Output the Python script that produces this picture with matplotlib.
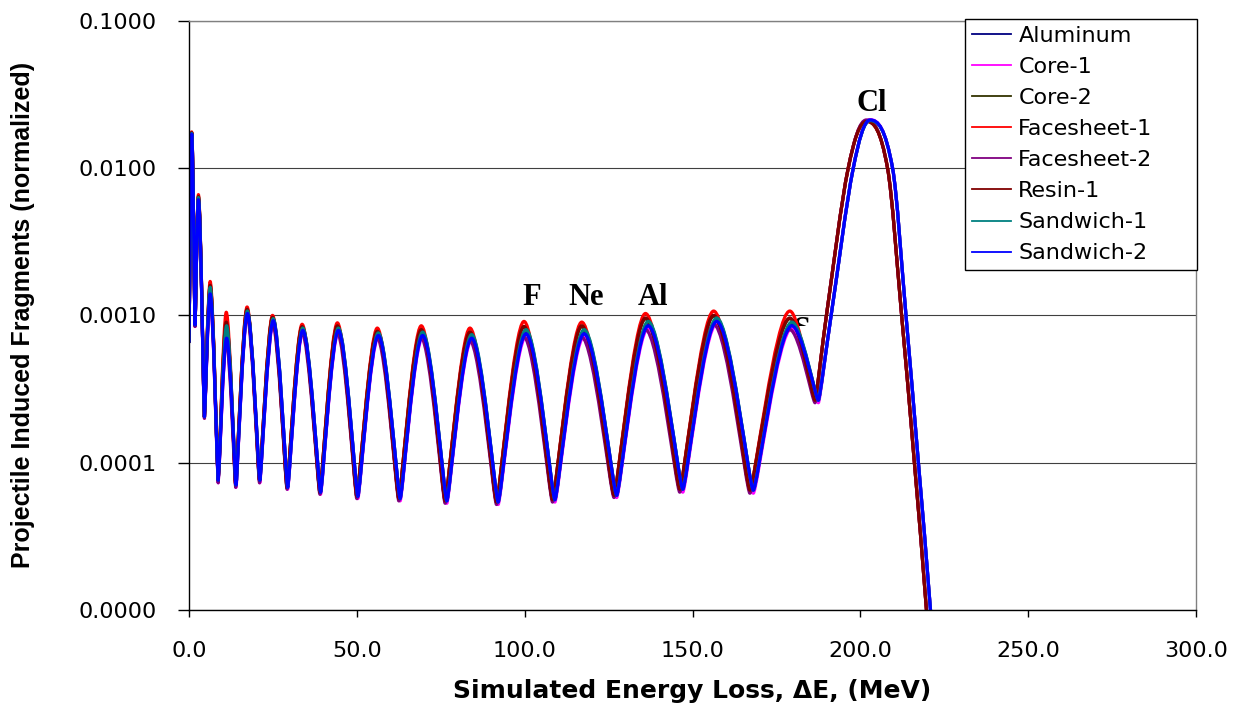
import numpy as np
import matplotlib
matplotlib.use("Agg")
import matplotlib.pyplot as plt
from matplotlib.path import Path
from matplotlib.patches import PathPatch, Rectangle
from matplotlib.lines import Line2D
from matplotlib.ticker import FixedLocator, NullLocator, FixedFormatter

# ---------------- data ----------------
series_names = ["Aluminum", "Core-1", "Core-2", "Facesheet-1",
                "Facesheet-2", "Resin-1", "Sandwich-1", "Sandwich-2"]
series_colors = ["#000080", "#FF00FF", "#333300", "#FF0000",
                 "#800080", "#800000", "#008080", "#0000FF"]
# which energy grid each series follows ("R" = right group, "L" = left group)
series_group = ["R", "R", "L", "L", "L", "L", "R", "R"]

start_E = 0.0
start_y = 6.6e-4

# energies (MeV) of the 16 fragment peaks and the 16 valleys after them
peak_E_right = [0.8, 2.8, 6.3, 11.2, 17.4, 25.1, 33.9, 44.5, 56.4, 69.6,
                84.2, 100.4, 117.7, 136.8, 157.2, 179.6]
valley_E_right = [1.8, 4.6, 8.7, 14.0, 21.1, 29.4, 39.2, 50.3, 62.9, 76.8,
                  92.1, 109.0, 127.4, 147.1, 168.1, 187.5]
peak_E_left = [0.8, 2.8, 6.3, 11.1, 17.3, 24.9, 33.7, 44.2, 56.1, 69.2,
               83.7, 99.8, 117.0, 136.0, 156.3, 179.0]
valley_E_left = [1.8, 4.6, 8.7, 13.9, 21.0, 29.2, 39.0, 50.0, 62.5, 76.3,
                 91.6, 108.3, 126.6, 146.2, 167.1, 186.5]

# Cl peak region: two rise points, the peak, five fall points
cl_E_right = [191.3, 197.9, 202.9, 209.6, 213.6, 217.3, 220.9, 222.6]
cl_E_left = [189.9, 196.4, 201.8, 208.1, 212.3, 216.1, 219.7, 221.4]
cl_rise_y = [1.0e-3, 1.0e-2]
cl_fall_y = [1.0e-2, 1.0e-3, 1.0e-4, 1.0e-5, 2.5e-6]

valleys_upper = [8.6e-4, 2.05e-4, 7.6e-5, 7.05e-5, 7.6e-5, 6.8e-5, 6.3e-5, 5.9e-5,
                 5.7e-5, 5.5e-5, 5.4e-5, 5.6e-5, 6.0e-5, 6.6e-5, 6.5e-5, 2.65e-4]
valleys_lower = [8.4e-4, 2.0e-4, 7.3e-5, 6.8e-5, 7.3e-5, 6.6e-5, 6.1e-5, 5.7e-5,
                 5.5e-5, 5.3e-5, 5.2e-5, 5.4e-5, 5.8e-5, 6.3e-5, 6.2e-5, 2.55e-4]
series_valleys = ["U", "L", "U", "U", "L", "U", "U", "U"]

# 16 fragment peaks + Cl peak for each series
aluminum_peaks = [0.0171, 0.0062, 0.00150, 0.00080, 0.00105, 0.00094, 0.00081, 0.00081,
                  0.00075, 0.00075, 0.00072, 0.00078, 0.00078, 0.00089, 0.00094, 0.00088, 0.0211]
core1_peaks = [0.0168, 0.0060, 0.00135, 0.00068, 0.00100, 0.00089, 0.00077, 0.00077,
               0.00071, 0.00071, 0.00068, 0.00072, 0.00072, 0.00082, 0.00088, 0.00082, 0.0213]
core2_peaks = [0.0173, 0.0064, 0.00160, 0.00092, 0.00110, 0.00097, 0.00084, 0.00085,
               0.00078, 0.00080, 0.00077, 0.00084, 0.00084, 0.00095, 0.00099, 0.00095, 0.0209]
facesheet1_peaks = [0.0176, 0.0066, 0.00170, 0.00105, 0.00114, 0.00100, 0.00087, 0.00089,
                    0.00082, 0.00085, 0.00082, 0.00091, 0.00090, 0.00103, 0.00107, 0.00107, 0.0208]
facesheet2_peaks = [0.0168, 0.0060, 0.00135, 0.00067, 0.00099, 0.00088, 0.00076, 0.00076,
                    0.00070, 0.00070, 0.00067, 0.00071, 0.00071, 0.00080, 0.00087, 0.00080, 0.0212]
resin1_peaks = [0.0174, 0.0064, 0.00160, 0.00090, 0.00110, 0.00097, 0.00084, 0.00085,
                0.00078, 0.00080, 0.00077, 0.00084, 0.00085, 0.00096, 0.00100, 0.00096, 0.0207]
sandwich1_peaks = [0.0172, 0.0063, 0.00155, 0.00085, 0.00107, 0.00095, 0.00082, 0.00082,
                   0.00076, 0.00077, 0.00074, 0.00080, 0.00080, 0.00091, 0.00096, 0.00090, 0.0210]
sandwich2_peaks = [0.0170, 0.0061, 0.00140, 0.00070, 0.00103, 0.00092, 0.00079, 0.00079,
                   0.00073, 0.00073, 0.00070, 0.00075, 0.00075, 0.00085, 0.00091, 0.00085, 0.0212]
series_peaks = [aluminum_peaks, core1_peaks, core2_peaks, facesheet1_peaks,
                facesheet2_peaks, resin1_peaks, sandwich1_peaks, sandwich2_peaks]

# element labels
label_texts = ["F", "Ne", "Al", "S", "Cl"]
label_E = [102.0, 118.4, 138.3, 182.6, 203.4]
label_y = [1.17e-3, 1.17e-3, 1.17e-3, 7.0e-4, 2.45e-2]
# the "S" label is largely hidden in the original; only its top is visible
s_label_visible_above = 8.5e-4

x_ticks = [0, 50, 100, 150, 200, 250, 300]
x_tick_labels = ["0.0", "50.0", "100.0", "150.0", "200.0", "250.0", "300.0"]
y_ticks = [1e-5, 1e-4, 1e-3, 1e-2, 1e-1]
y_tick_labels = ["0.0000", "0.0001", "0.0010", "0.0100", "0.1000"]


# ---------------- helpers ----------------
def build_series(group, peaks, valleys):
    pE = peak_E_right if group == "R" else peak_E_left
    vE = valley_E_right if group == "R" else valley_E_left
    cE = cl_E_right if group == "R" else cl_E_left
    xs, ys = [start_E], [start_y]
    for i in range(len(pE)):
        xs += [pE[i], vE[i]]
        ys += [peaks[i], valleys[i]]
    xs += list(cE)
    ys += list(cl_rise_y) + [peaks[-1]] + list(cl_fall_y)
    return xs, ys


def smooth_path(xs, ys, peak_round=1.09, valley_round=0.3):
    """Excel-like smoothed line: cubic Bezier segments through the data
    points, built in (x, log10 y) space."""
    x = np.asarray(xs, float)
    ly = np.log10(np.asarray(ys, float))
    n = len(x)
    m = np.zeros(n)
    h = np.ones(n)
    for i in range(n):
        if i == 0:
            m[i] = (ly[1] - ly[0]) / (x[1] - x[0])
        elif i == n - 1:
            m[i] = (ly[-1] - ly[-2]) / (x[-1] - x[-2])
        elif ly[i] > ly[i - 1] and ly[i] > ly[i + 1]:
            m[i], h[i] = 0.0, peak_round
        elif ly[i] < ly[i - 1] and ly[i] < ly[i + 1]:
            m[i], h[i] = 0.0, valley_round
        else:
            m[i] = (ly[i + 1] - ly[i - 1]) / (x[i + 1] - x[i - 1])
    verts = [(x[0], ly[0])]
    codes = [Path.MOVETO]
    for i in range(n - 1):
        dx = x[i + 1] - x[i]
        a = h[i] * dx / 3.0
        b = h[i + 1] * dx / 3.0
        verts += [(x[i] + a, ly[i] + m[i] * a),
                  (x[i + 1] - b, ly[i + 1] - m[i + 1] * b),
                  (x[i + 1], ly[i + 1])]
        codes += [Path.CURVE4] * 3
    v = np.array(verts)
    v[:, 1] = 10.0 ** v[:, 1]
    return Path(v, codes)


# ---------------- figure ----------------
W, H = 1246, 706
fig = plt.figure(figsize=(W / 100, H / 100), dpi=100)
ax = fig.add_axes([189 / W, 1 - 610 / H, (1196 - 189) / W, (610 - 20.7) / H])
ax.set_yscale("log")
ax.set_xlim(0, 300)
ax.set_ylim(1e-5, 1e-1)

# element labels (drawn beneath the curves)
for t, e, yv in zip(label_texts, label_E, label_y):
    txt = ax.text(e, yv, t, ha="center", va="baseline", fontsize=22, fontweight="bold",
                  family="Liberation Serif", zorder=1.5)
    if t == "S":
        clip = Rectangle((0, s_label_visible_above), 300, 1.0, transform=ax.transData)
        txt.set_clip_on(True)
        txt.set_clip_path(clip)

handles = []
for k, name in enumerate(series_names):
    vals = valleys_upper if series_valleys[k] == "U" else valleys_lower
    xs, ys = build_series(series_group[k], series_peaks[k], vals)
    patch = PathPatch(smooth_path(xs, ys), facecolor="none",
                      edgecolor=series_colors[k], lw=2.3,
                      capstyle="round", joinstyle="round", zorder=2 + k * 0.01)
    ax.add_patch(patch)
    handles.append(Line2D([], [], color=series_colors[k], lw=1.3))

# axes styling
ax.xaxis.set_major_locator(FixedLocator(x_ticks))
ax.xaxis.set_major_formatter(FixedFormatter(x_tick_labels))
ax.yaxis.set_major_locator(FixedLocator(y_ticks))
ax.yaxis.set_major_formatter(FixedFormatter(y_tick_labels))
ax.yaxis.set_minor_locator(NullLocator())
ax.xaxis.set_minor_locator(NullLocator())

ax.grid(axis="y", which="major", color="#404040", lw=0.8, zorder=0)
ax.set_axisbelow(True)

for s in ["left", "bottom"]:
    ax.spines[s].set_color("black")
    ax.spines[s].set_linewidth(1.0)
for s in ["top", "right"]:
    ax.spines[s].set_color("#808080")
    ax.spines[s].set_linewidth(1.0)

ax.tick_params(axis="y", direction="out", length=8, width=1, pad=15,
               labelsize=16, colors="black")
ax.tick_params(axis="x", direction="out", length=5, width=1, pad=17,
               labelsize=16, colors="black")

fig.text(23 / W, 1 - 315 / H, "Projectile Induced Fragments (normalized)",
         rotation=90, ha="center", va="center", fontsize=18, fontweight="bold",
         family="Liberation Sans")
fig.text(692 / W, 1 - 698 / H, "Simulated Energy Loss, \u0394E, (MeV)",
         ha="center", va="baseline", fontsize=18, fontweight="bold")

# legend box: x 965..1197 px, top at 19 px
leg_x0 = (965 - 189) / 1007
leg_w = (1197 - 965) / 1007
leg_top = (610 - 19) / 589.3
leg = ax.legend(handles, series_names, loc="upper left",
                bbox_to_anchor=(leg_x0, 0.0, leg_w, leg_top), mode="expand",
                borderaxespad=0.0, fancybox=False, framealpha=1.0, edgecolor="black",
                fontsize=16, handlelength=1.75, handletextpad=0.35, labelspacing=0.5,
                borderpad=0.3)
leg.get_frame().set_linewidth(1.0)
leg.set_zorder(5)

fig.savefig("out.png", dpi=100)
